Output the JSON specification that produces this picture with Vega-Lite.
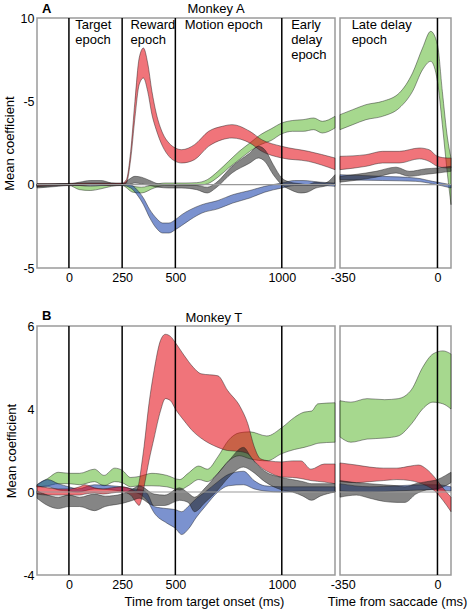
{
  "$schema": "https://vega.github.io/schema/vega-lite/v6.json",
  "padding": {"left": 2, "top": 2, "right": 2, "bottom": 1},
  "background": "white",
  "config": {
    "font": "Liberation Sans",
    "view": {"stroke": "#9a9a9a", "strokeWidth": 1.5},
    "axis": {"domain": false, "ticks": false, "grid": false, "labelFontSize": 12.5, "labelColor": "#000", "titleFontSize": 13, "titleFontWeight": "normal", "titleColor": "#000", "labelPadding": 3, "titlePadding": 4},
    "area": {"interpolate": "monotone", "stroke": "#1a1a1a", "strokeWidth": 0.6, "strokeOpacity": 0.75},
    "text": {"color": "#000", "fontSize": 13}
  },
  "datasets": {
    "AL": [
      {"s":"green","t":-150,"hi":0.05,"lo":-0.1},{"s":"green","t":-100,"hi":0.05,"lo":-0.08},{"s":"green","t":-50,"hi":0.05,"lo":-0.05},{"s":"green","t":0,"hi":0.05,"lo":-0.05},{"s":"green","t":50,"hi":-0.05,"lo":-0.3},{"s":"green","t":100,"hi":-0.1,"lo":-0.35},{"s":"green","t":150,"hi":-0.05,"lo":-0.25},{"s":"green","t":200,"hi":0.0,"lo":-0.1},{"s":"green","t":250,"hi":0.05,"lo":-0.05},{"s":"green","t":300,"hi":-0.1,"lo":-0.45},{"s":"green","t":340,"hi":-0.15,"lo":-0.5},{"s":"green","t":400,"hi":0.0,"lo":-0.2},{"s":"green","t":450,"hi":0.1,"lo":-0.05},{"s":"green","t":500,"hi":0.1,"lo":-0.05},{"s":"green","t":550,"hi":0.1,"lo":-0.05},{"s":"green","t":600,"hi":0.12,"lo":-0.05},{"s":"green","t":650,"hi":0.3,"lo":0.05},{"s":"green","t":700,"hi":0.8,"lo":0.45},{"s":"green","t":750,"hi":1.4,"lo":1.0},{"s":"green","t":800,"hi":2.0,"lo":1.5},{"s":"green","t":850,"hi":2.5,"lo":2.0},{"s":"green","t":900,"hi":3.0,"lo":2.4},{"s":"green","t":950,"hi":3.35,"lo":2.65},{"s":"green","t":1000,"hi":3.7,"lo":3.05},{"s":"green","t":1050,"hi":3.85,"lo":3.2},{"s":"green","t":1100,"hi":3.9,"lo":3.2},{"s":"green","t":1150,"hi":4.0,"lo":3.3},{"s":"green","t":1190,"hi":3.8,"lo":3.1},{"s":"green","t":1250,"hi":4.1,"lo":3.4},
      {"s":"blue","t":-150,"hi":0.05,"lo":-0.1},{"s":"blue","t":-50,"hi":0.05,"lo":-0.05},{"s":"blue","t":100,"hi":0.05,"lo":-0.05},{"s":"blue","t":250,"hi":0.05,"lo":-0.05},{"s":"blue","t":290,"hi":0.0,"lo":-0.2},{"s":"blue","t":320,"hi":-0.3,"lo":-0.6},{"s":"blue","t":350,"hi":-0.8,"lo":-1.2},{"s":"blue","t":380,"hi":-1.5,"lo":-2.0},{"s":"blue","t":410,"hi":-2.0,"lo":-2.6},{"s":"blue","t":440,"hi":-2.3,"lo":-2.9},{"s":"blue","t":470,"hi":-2.3,"lo":-2.9},{"s":"blue","t":500,"hi":-2.1,"lo":-2.7},{"s":"blue","t":530,"hi":-1.8,"lo":-2.45},{"s":"blue","t":570,"hi":-1.5,"lo":-2.1},{"s":"blue","t":625,"hi":-1.2,"lo":-1.7},{"s":"blue","t":700,"hi":-0.95,"lo":-1.45},{"s":"blue","t":770,"hi":-0.6,"lo":-1.1},{"s":"blue","t":850,"hi":-0.35,"lo":-0.8},{"s":"blue","t":920,"hi":-0.1,"lo":-0.45},{"s":"blue","t":1000,"hi":0.1,"lo":-0.2},{"s":"blue","t":1060,"hi":0.25,"lo":-0.05},{"s":"blue","t":1100,"hi":0.25,"lo":-0.05},{"s":"blue","t":1180,"hi":0.15,"lo":-0.05},{"s":"blue","t":1250,"hi":0.1,"lo":-0.1},
      {"s":"red","t":-150,"hi":0.05,"lo":-0.1},{"s":"red","t":-50,"hi":0.05,"lo":-0.05},{"s":"red","t":50,"hi":0.1,"lo":-0.05},{"s":"red","t":100,"hi":0.1,"lo":0.0},{"s":"red","t":150,"hi":0.1,"lo":0.0},{"s":"red","t":200,"hi":0.1,"lo":-0.05},{"s":"red","t":250,"hi":0.1,"lo":0.0},{"s":"red","t":270,"hi":0.3,"lo":0.1},{"s":"red","t":290,"hi":2.0,"lo":1.5},{"s":"red","t":310,"hi":5.0,"lo":4.0},{"s":"red","t":330,"hi":7.6,"lo":6.0},{"s":"red","t":350,"hi":8.2,"lo":6.4},{"s":"red","t":370,"hi":7.3,"lo":5.6},{"s":"red","t":390,"hi":5.6,"lo":4.2},{"s":"red","t":410,"hi":4.3,"lo":3.3},{"s":"red","t":440,"hi":3.1,"lo":2.3},{"s":"red","t":470,"hi":2.5,"lo":1.7},{"s":"red","t":500,"hi":2.2,"lo":1.4},{"s":"red","t":530,"hi":2.1,"lo":1.3},{"s":"red","t":590,"hi":2.4,"lo":1.5},{"s":"red","t":656,"hi":3.2,"lo":2.3},{"s":"red","t":720,"hi":3.5,"lo":2.7},{"s":"red","t":766,"hi":3.6,"lo":2.8},{"s":"red","t":850,"hi":3.2,"lo":2.5},{"s":"red","t":906,"hi":2.7,"lo":2.0},{"s":"red","t":1000,"hi":2.3,"lo":1.6},{"s":"red","t":1125,"hi":2.0,"lo":1.4},{"s":"red","t":1250,"hi":1.6,"lo":0.9},
      {"s":"black","t":-150,"hi":0.0,"lo":-0.2},{"s":"black","t":-100,"hi":0.0,"lo":-0.15},{"s":"black","t":-50,"hi":0.05,"lo":-0.1},{"s":"black","t":0,"hi":0.05,"lo":-0.05},{"s":"black","t":50,"hi":0.15,"lo":-0.05},{"s":"black","t":100,"hi":0.25,"lo":0.0},{"s":"black","t":150,"hi":0.25,"lo":0.0},{"s":"black","t":200,"hi":0.1,"lo":-0.05},{"s":"black","t":250,"hi":0.05,"lo":-0.05},{"s":"black","t":280,"hi":0.3,"lo":0.0},{"s":"black","t":310,"hi":0.5,"lo":0.1},{"s":"black","t":340,"hi":0.45,"lo":0.05},{"s":"black","t":380,"hi":0.25,"lo":-0.05},{"s":"black","t":420,"hi":0.05,"lo":-0.15},{"s":"black","t":470,"hi":0.0,"lo":-0.2},{"s":"black","t":530,"hi":0.0,"lo":-0.2},{"s":"black","t":600,"hi":-0.05,"lo":-0.3},{"s":"black","t":650,"hi":-0.15,"lo":-0.5},{"s":"black","t":690,"hi":0.1,"lo":-0.2},{"s":"black","t":766,"hi":1.1,"lo":0.7},{"s":"black","t":850,"hi":1.9,"lo":1.3},{"s":"black","t":890,"hi":2.3,"lo":1.6},{"s":"black","t":920,"hi":2.1,"lo":1.4},{"s":"black","t":960,"hi":1.2,"lo":0.6},{"s":"black","t":1000,"hi":0.4,"lo":0.0},{"s":"black","t":1040,"hi":0.15,"lo":-0.3},{"s":"black","t":1090,"hi":0.05,"lo":-0.5},{"s":"black","t":1120,"hi":0.0,"lo":-0.45},{"s":"black","t":1160,"hi":0.15,"lo":-0.2},{"s":"black","t":1200,"hi":0.1,"lo":-0.1},{"s":"black","t":1250,"hi":0.6,"lo":0.1}
    ],
    "AR": [
      {"s":"green","t":-360,"hi":4.2,"lo":3.3},{"s":"green","t":-313,"hi":4.5,"lo":3.6},{"s":"green","t":-264,"hi":4.8,"lo":3.9},{"s":"green","t":-203,"hi":5.0,"lo":4.1},{"s":"green","t":-141,"hi":5.5,"lo":4.6},{"s":"green","t":-92,"hi":6.7,"lo":5.6},{"s":"green","t":-55,"hi":8.2,"lo":6.9},{"s":"green","t":-25,"hi":9.2,"lo":7.4},{"s":"green","t":0,"hi":8.4,"lo":6.2},{"s":"green","t":18,"hi":5.6,"lo":3.6},{"s":"green","t":37,"hi":2.8,"lo":0.6},{"s":"green","t":50,"hi":1.6,"lo":-1.2},
      {"s":"blue","t":-360,"hi":0.6,"lo":0.3},{"s":"blue","t":-203,"hi":0.5,"lo":0.25},{"s":"blue","t":-80,"hi":0.4,"lo":0.2},{"s":"blue","t":-18,"hi":0.2,"lo":0.05},{"s":"blue","t":50,"hi":0.0,"lo":-0.2},
      {"s":"red","t":-360,"hi":1.7,"lo":0.9},{"s":"red","t":-264,"hi":1.8,"lo":1.1},{"s":"red","t":-203,"hi":2.0,"lo":1.3},{"s":"red","t":-141,"hi":2.0,"lo":1.3},{"s":"red","t":-67,"hi":2.2,"lo":1.55},{"s":"red","t":-31,"hi":2.1,"lo":1.4},{"s":"red","t":0,"hi":1.7,"lo":1.1},{"s":"red","t":37,"hi":1.6,"lo":1.0},{"s":"red","t":50,"hi":1.6,"lo":1.0},
      {"s":"black","t":-360,"hi":0.5,"lo":0.15},{"s":"black","t":-264,"hi":0.7,"lo":0.35},{"s":"black","t":-227,"hi":0.8,"lo":0.45},{"s":"black","t":-153,"hi":1.05,"lo":0.7},{"s":"black","t":-104,"hi":0.8,"lo":0.5},{"s":"black","t":-43,"hi":0.95,"lo":0.62},{"s":"black","t":0,"hi":1.0,"lo":0.7},{"s":"black","t":50,"hi":1.1,"lo":0.8}
    ],
    "BL": [
      {"s":"green","t":-150,"hi":0.35,"lo":0.25},{"s":"green","t":-100,"hi":0.65,"lo":0.3},{"s":"green","t":-50,"hi":0.95,"lo":0.4},{"s":"green","t":0,"hi":0.9,"lo":0.4},{"s":"green","t":50,"hi":0.9,"lo":0.35},{"s":"green","t":120,"hi":1.1,"lo":0.5},{"s":"green","t":165,"hi":0.8,"lo":0.3},{"s":"green","t":215,"hi":1.15,"lo":0.5},{"s":"green","t":250,"hi":1.05,"lo":0.45},{"s":"green","t":290,"hi":0.7,"lo":0.25},{"s":"green","t":330,"hi":0.75,"lo":0.3},{"s":"green","t":390,"hi":0.9,"lo":0.3},{"s":"green","t":460,"hi":0.8,"lo":0.25},{"s":"green","t":520,"hi":0.6,"lo":0.1},{"s":"green","t":560,"hi":0.9,"lo":0.3},{"s":"green","t":610,"hi":1.25,"lo":0.6},{"s":"green","t":650,"hi":1.1,"lo":0.5},{"s":"green","t":700,"hi":1.7,"lo":0.9},{"s":"green","t":750,"hi":2.5,"lo":1.5},{"s":"green","t":800,"hi":2.85,"lo":1.75},{"s":"green","t":850,"hi":2.9,"lo":1.6},{"s":"green","t":930,"hi":2.7,"lo":1.5},{"s":"green","t":1000,"hi":3.1,"lo":1.85},{"s":"green","t":1060,"hi":3.6,"lo":2.05},{"s":"green","t":1105,"hi":3.85,"lo":2.15},{"s":"green","t":1140,"hi":3.9,"lo":2.25},{"s":"green","t":1170,"hi":4.25,"lo":2.35},{"s":"green","t":1250,"hi":4.3,"lo":2.4},
      {"s":"blue","t":-150,"hi":0.35,"lo":0.25},{"s":"blue","t":-100,"hi":0.6,"lo":0.25},{"s":"blue","t":-50,"hi":0.4,"lo":0.1},{"s":"blue","t":0,"hi":0.25,"lo":0.05},{"s":"blue","t":40,"hi":0.15,"lo":0.0},{"s":"blue","t":120,"hi":0.35,"lo":0.15},{"s":"blue","t":200,"hi":0.3,"lo":0.1},{"s":"blue","t":250,"hi":0.25,"lo":0.05},{"s":"blue","t":300,"hi":0.15,"lo":0.0},{"s":"blue","t":340,"hi":0.1,"lo":-0.15},{"s":"blue","t":370,"hi":-0.1,"lo":-0.45},{"s":"blue","t":400,"hi":-0.7,"lo":-1.0},{"s":"blue","t":460,"hi":-0.8,"lo":-1.5},{"s":"blue","t":500,"hi":-0.85,"lo":-1.75},{"s":"blue","t":530,"hi":-0.95,"lo":-2.05},{"s":"blue","t":560,"hi":-0.7,"lo":-1.8},{"s":"blue","t":600,"hi":-0.3,"lo":-1.2},{"s":"blue","t":640,"hi":0.0,"lo":-0.7},{"s":"blue","t":700,"hi":0.5,"lo":0.0},{"s":"blue","t":750,"hi":0.85,"lo":0.3},{"s":"blue","t":820,"hi":1.0,"lo":0.35},{"s":"blue","t":870,"hi":0.55,"lo":0.15},{"s":"blue","t":920,"hi":0.3,"lo":0.05},{"s":"blue","t":1000,"hi":0.25,"lo":0.0},{"s":"blue","t":1100,"hi":0.25,"lo":0.05},{"s":"blue","t":1250,"hi":0.25,"lo":0.0},
      {"s":"red","t":-150,"hi":0.3,"lo":-0.1},{"s":"red","t":-100,"hi":0.2,"lo":-0.15},{"s":"red","t":-50,"hi":0.15,"lo":-0.15},{"s":"red","t":0,"hi":0.15,"lo":-0.15},{"s":"red","t":50,"hi":0.25,"lo":-0.15},{"s":"red","t":75,"hi":0.35,"lo":-0.1},{"s":"red","t":120,"hi":0.2,"lo":-0.05},{"s":"red","t":160,"hi":0.15,"lo":-0.1},{"s":"red","t":200,"hi":0.2,"lo":-0.05},{"s":"red","t":250,"hi":0.25,"lo":0.0},{"s":"red","t":290,"hi":0.15,"lo":-0.15},{"s":"red","t":315,"hi":0.05,"lo":-0.5},{"s":"red","t":330,"hi":0.5,"lo":-0.65},{"s":"red","t":340,"hi":1.2,"lo":-0.4},{"s":"red","t":353,"hi":2.2,"lo":0.25},{"s":"red","t":376,"hi":4.25,"lo":1.5},{"s":"red","t":400,"hi":5.85,"lo":2.6},{"s":"red","t":430,"hi":7.3,"lo":3.9},{"s":"red","t":453,"hi":7.6,"lo":4.5},{"s":"red","t":477,"hi":7.5,"lo":4.4},{"s":"red","t":500,"hi":7.2,"lo":4.0},{"s":"red","t":540,"hi":6.6,"lo":3.45},{"s":"red","t":585,"hi":6.0,"lo":2.9},{"s":"red","t":620,"hi":5.7,"lo":2.6},{"s":"red","t":700,"hi":5.6,"lo":2.15},{"s":"red","t":745,"hi":4.9,"lo":2.0},{"s":"red","t":805,"hi":4.1,"lo":1.95},{"s":"red","t":840,"hi":3.3,"lo":1.85},{"s":"red","t":870,"hi":2.2,"lo":1.5},{"s":"red","t":900,"hi":1.6,"lo":1.2},{"s":"red","t":940,"hi":1.5,"lo":0.95},{"s":"red","t":1000,"hi":1.45,"lo":0.72},{"s":"red","t":1050,"hi":1.5,"lo":0.7},{"s":"red","t":1090,"hi":1.5,"lo":0.65},{"s":"red","t":1137,"hi":1.1,"lo":0.55},{"s":"red","t":1200,"hi":1.35,"lo":0.48},{"s":"red","t":1250,"hi":1.35,"lo":0.4},
      {"s":"black","t":-150,"hi":0.05,"lo":-0.3},{"s":"black","t":-100,"hi":-0.15,"lo":-0.65},{"s":"black","t":-50,"hi":-0.25,"lo":-0.8},{"s":"black","t":0,"hi":-0.15,"lo":-0.7},{"s":"black","t":50,"hi":-0.25,"lo":-0.7},{"s":"black","t":120,"hi":-0.1,"lo":-0.9},{"s":"black","t":170,"hi":-0.2,"lo":-0.7},{"s":"black","t":250,"hi":-0.1,"lo":-0.55},{"s":"black","t":300,"hi":0.15,"lo":-0.4},{"s":"black","t":330,"hi":0.3,"lo":-0.3},{"s":"black","t":400,"hi":-0.1,"lo":-0.65},{"s":"black","t":450,"hi":-0.15,"lo":-0.65},{"s":"black","t":520,"hi":0.2,"lo":-0.4},{"s":"black","t":560,"hi":-0.05,"lo":-0.5},{"s":"black","t":590,"hi":-0.25,"lo":-0.95},{"s":"black","t":640,"hi":0.2,"lo":-0.5},{"s":"black","t":700,"hi":0.9,"lo":0.1},{"s":"black","t":750,"hi":1.5,"lo":0.7},{"s":"black","t":820,"hi":2.15,"lo":1.2},{"s":"black","t":860,"hi":1.6,"lo":1.0},{"s":"black","t":920,"hi":1.0,"lo":0.5},{"s":"black","t":1000,"hi":0.7,"lo":0.1},{"s":"black","t":1050,"hi":0.6,"lo":0.0},{"s":"black","t":1100,"hi":0.5,"lo":-0.2},{"s":"black","t":1140,"hi":0.4,"lo":-0.4},{"s":"black","t":1180,"hi":0.4,"lo":-0.2},{"s":"black","t":1250,"hi":0.4,"lo":0.0}
    ],
    "BR": [
      {"s":"green","t":-360,"hi":4.4,"lo":2.65},{"s":"green","t":-320,"hi":4.33,"lo":2.4},{"s":"green","t":-260,"hi":4.5,"lo":2.55},{"s":"green","t":-195,"hi":4.45,"lo":2.6},{"s":"green","t":-145,"hi":4.5,"lo":2.7},{"s":"green","t":-95,"hi":4.95,"lo":3.3},{"s":"green","t":-55,"hi":6.0,"lo":4.0},{"s":"green","t":-17,"hi":6.65,"lo":4.33},{"s":"green","t":20,"hi":6.8,"lo":4.25},{"s":"green","t":50,"hi":6.65,"lo":4.0},
      {"s":"blue","t":-360,"hi":0.4,"lo":0.05},{"s":"blue","t":-250,"hi":0.25,"lo":0.0},{"s":"blue","t":-150,"hi":0.3,"lo":0.05},{"s":"blue","t":-50,"hi":0.35,"lo":0.1},{"s":"blue","t":0,"hi":0.35,"lo":0.1},{"s":"blue","t":50,"hi":0.25,"lo":0.05},
      {"s":"red","t":-360,"hi":1.4,"lo":0.5},{"s":"red","t":-300,"hi":1.3,"lo":0.45},{"s":"red","t":-250,"hi":1.2,"lo":0.5},{"s":"red","t":-200,"hi":1.15,"lo":0.55},{"s":"red","t":-150,"hi":1.15,"lo":0.6},{"s":"red","t":-100,"hi":1.25,"lo":0.55},{"s":"red","t":-70,"hi":1.3,"lo":0.45},{"s":"red","t":-40,"hi":1.1,"lo":0.3},{"s":"red","t":-10,"hi":0.7,"lo":0.05},{"s":"red","t":20,"hi":0.2,"lo":-0.4},{"s":"red","t":50,"hi":-0.25,"lo":-0.95},
      {"s":"black","t":-360,"hi":0.55,"lo":-0.25},{"s":"black","t":-300,"hi":0.45,"lo":-0.15},{"s":"black","t":-250,"hi":0.4,"lo":-0.3},{"s":"black","t":-200,"hi":0.35,"lo":-0.45},{"s":"black","t":-150,"hi":0.3,"lo":-0.5},{"s":"black","t":-120,"hi":0.25,"lo":-0.5},{"s":"black","t":-80,"hi":0.4,"lo":-0.1},{"s":"black","t":-40,"hi":0.5,"lo":0.1},{"s":"black","t":0,"hi":0.6,"lo":0.15},{"s":"black","t":30,"hi":0.8,"lo":0.3},{"s":"black","t":50,"hi":0.95,"lo":0.45}
    ],
    "epochL": [
      {"t":30,"v":9.95,"label":"Target\nepoch"},
      {"t":289,"v":9.95,"label":"Reward\nepoch"},
      {"t":544,"v":9.95,"label":"Motion epoch"},
      {"t":1044,"v":9.95,"label":"Early\ndelay\nepoch"}
    ],
    "epochR": [
      {"t":-317,"v":9.95,"label":"Late delay\nepoch"}
    ],
    "vlinesL": [{"t":0},{"t":250},{"t":500},{"t":1000}],
    "vlinesR": [{"t":0}]
  },
  "spacing": 24,
  "vconcat": [
    {
      "spacing": 5,
      "bounds": "flush",
      "hconcat": [
        {
          "width": 298, "height": 250,
          "layer": [
            {
              "data": {"name": "AL"},
              "mark": {"type": "area"},
              "encoding": {
                "x": {"field": "t", "type": "quantitative", "scale": {"domain": [-150, 1250], "nice": false, "zero": false}, "axis": {"values": [0, 250, 500, 1000], "labelExpr": "datum.value + ''", "title": null}},
                "y": {"field": "hi", "type": "quantitative", "scale": {"domain": [-5, 10], "nice": false, "zero": false}, "axis": {"values": [-5, 0, 5, 10], "labelExpr": "datum.value == 5 ? '-5' : datum.value + ''", "title": "Mean coefficient"}},
                "y2": {"field": "lo"},
                "fill": {"field": "s", "type": "nominal", "scale": {"domain": ["green", "blue", "red", "black"], "range": ["#5db832", "#0f39a8", "#e4020d", "#202020"]}, "legend": null},
                "fillOpacity": {"field": "s", "type": "nominal", "scale": {"domain": ["green", "blue", "red", "black"], "range": [0.55, 0.55, 0.55, 0.75]}, "legend": null}
              }
            },
            {
              "data": {"name": "vlinesL"},
              "mark": {"type": "rule", "color": "#000", "strokeWidth": 1.5},
              "encoding": {"x": {"field": "t", "type": "quantitative"}}
            },
            {
              "data": {"values": [{}]},
              "mark": {"type": "rule", "color": "#999", "strokeWidth": 1.2},
              "encoding": {"y": {"datum": 0}}
            },
            {
              "data": {"name": "epochL"},
              "mark": {"type": "text", "align": "left", "baseline": "top", "lineHeight": 15, "lineBreak": "\n"},
              "encoding": {"x": {"field": "t", "type": "quantitative"}, "y": {"field": "v", "type": "quantitative"}, "text": {"field": "label"}}
            },
            {
              "data": {"values": [{}]},
              "mark": {"type": "text", "text": "A", "fontWeight": "bold", "align": "left", "baseline": "middle", "dx": 5, "dy": -9},
              "encoding": {"x": {"datum": -150}, "y": {"datum": 10}}
            },
            {
              "data": {"values": [{}]},
              "mark": {"type": "text", "text": "Monkey A", "align": "center", "baseline": "middle", "dy": -9},
              "encoding": {"x": {"datum": 691}, "y": {"datum": 10}}
            }
          ]
        },
        {
          "width": 111, "height": 250,
          "layer": [
            {
              "data": {"name": "AR"},
              "mark": {"type": "area"},
              "encoding": {
                "x": {"field": "t", "type": "quantitative", "scale": {"domain": [-360, 50], "nice": false, "zero": false}, "axis": {"values": [-350, 0], "labelExpr": "datum.value + ''", "title": null}},
                "y": {"field": "hi", "type": "quantitative", "scale": {"domain": [-5, 10], "nice": false, "zero": false}, "axis": null},
                "y2": {"field": "lo"},
                "fill": {"field": "s", "type": "nominal", "scale": {"domain": ["green", "blue", "red", "black"], "range": ["#5db832", "#0f39a8", "#e4020d", "#202020"]}, "legend": null},
                "fillOpacity": {"field": "s", "type": "nominal", "scale": {"domain": ["green", "blue", "red", "black"], "range": [0.55, 0.55, 0.55, 0.75]}, "legend": null}
              }
            },
            {
              "data": {"name": "vlinesR"},
              "mark": {"type": "rule", "color": "#000", "strokeWidth": 1.5},
              "encoding": {"x": {"field": "t", "type": "quantitative"}}
            },
            {
              "data": {"values": [{}]},
              "mark": {"type": "rule", "color": "#999", "strokeWidth": 1.2},
              "encoding": {"y": {"datum": 0}}
            },
            {
              "data": {"name": "epochR"},
              "mark": {"type": "text", "align": "left", "baseline": "top", "lineHeight": 15, "lineBreak": "\n"},
              "encoding": {"x": {"field": "t", "type": "quantitative"}, "y": {"field": "v", "type": "quantitative"}, "text": {"field": "label"}}
            }
          ]
        }
      ]
    },
    {
      "spacing": 5,
      "bounds": "flush",
      "hconcat": [
        {
          "width": 298, "height": 249,
          "layer": [
            {
              "data": {"name": "BL"},
              "mark": {"type": "area"},
              "encoding": {
                "x": {"field": "t", "type": "quantitative", "scale": {"domain": [-150, 1250], "nice": false, "zero": false}, "axis": {"values": [0, 250, 500, 1000], "labelExpr": "datum.value + ''", "title": "Time from target onset (ms)", "titleX": 167, "titlePadding": 5}},
                "y": {"field": "hi", "type": "quantitative", "scale": {"domain": [-4, 8], "nice": false, "zero": false}, "axis": {"values": [-4, 0, 4, 8], "labelExpr": "datum.value == 8 ? '6' : datum.value + ''", "title": "Mean coefficient"}},
                "y2": {"field": "lo"},
                "fill": {"field": "s", "type": "nominal", "scale": {"domain": ["green", "blue", "red", "black"], "range": ["#5db832", "#0f39a8", "#e4020d", "#202020"]}, "legend": null},
                "fillOpacity": {"field": "s", "type": "nominal", "scale": {"domain": ["green", "blue", "red", "black"], "range": [0.55, 0.55, 0.55, 0.75]}, "legend": null}
              }
            },
            {
              "data": {"name": "vlinesL"},
              "mark": {"type": "rule", "color": "#000", "strokeWidth": 1.5},
              "encoding": {"x": {"field": "t", "type": "quantitative"}}
            },
            {
              "data": {"values": [{}]},
              "mark": {"type": "rule", "color": "#999", "strokeWidth": 1.2},
              "encoding": {"y": {"datum": 0}}
            },
            {
              "data": {"values": [{}]},
              "mark": {"type": "text", "text": "B", "fontWeight": "bold", "align": "left", "baseline": "middle", "dx": 5, "dy": -10},
              "encoding": {"x": {"datum": -150}, "y": {"datum": 8}}
            },
            {
              "data": {"values": [{}]},
              "mark": {"type": "text", "text": "Monkey T", "align": "center", "baseline": "middle", "dy": -8},
              "encoding": {"x": {"datum": 681}, "y": {"datum": 8}}
            }
          ]
        },
        {
          "width": 111, "height": 249,
          "layer": [
            {
              "data": {"name": "BR"},
              "mark": {"type": "area"},
              "encoding": {
                "x": {"field": "t", "type": "quantitative", "scale": {"domain": [-360, 50], "nice": false, "zero": false}, "axis": {"values": [-350, 0], "labelExpr": "datum.value + ''", "title": "Time from saccade (ms)", "titleX": 57, "titlePadding": 5}},
                "y": {"field": "hi", "type": "quantitative", "scale": {"domain": [-4, 8], "nice": false, "zero": false}, "axis": null},
                "y2": {"field": "lo"},
                "fill": {"field": "s", "type": "nominal", "scale": {"domain": ["green", "blue", "red", "black"], "range": ["#5db832", "#0f39a8", "#e4020d", "#202020"]}, "legend": null},
                "fillOpacity": {"field": "s", "type": "nominal", "scale": {"domain": ["green", "blue", "red", "black"], "range": [0.55, 0.55, 0.55, 0.75]}, "legend": null}
              }
            },
            {
              "data": {"name": "vlinesR"},
              "mark": {"type": "rule", "color": "#000", "strokeWidth": 1.5},
              "encoding": {"x": {"field": "t", "type": "quantitative"}}
            },
            {
              "data": {"values": [{}]},
              "mark": {"type": "rule", "color": "#999", "strokeWidth": 1.2},
              "encoding": {"y": {"datum": 0}}
            }
          ]
        }
      ]
    }
  ]
}
